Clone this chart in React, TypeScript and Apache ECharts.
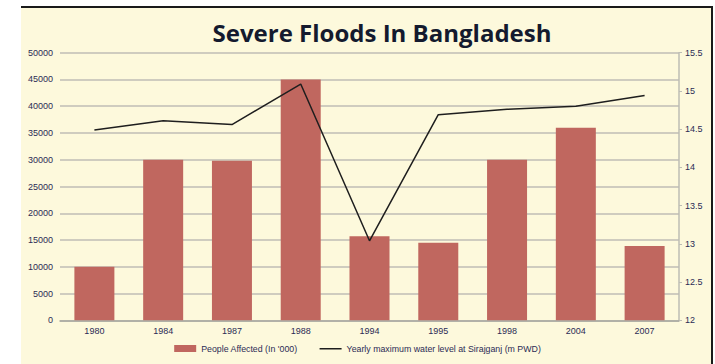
import React, { useEffect, useRef } from "react";
import * as echarts from "echarts";

const years = ["1980", "1984", "1987", "1988", "1994", "1995", "1998", "2004", "2007"];
const peopleAffected = [10000, 30000, 29800, 45000, 15700, 14500, 30000, 36000, 13900];
const waterLevel = [14.49, 14.61, 14.56, 15.09, 13.04, 14.69, 14.76, 14.8, 14.94];
const titleText = "Severe Floods In Bangladesh";
const barName = "People Affected (In '000)";
const lineName = "Yearly maximum water level at Sirajganj (m PWD)";

export default function App() {
  const ref = useRef<HTMLDivElement>(null);
  useEffect(() => {
    const chart = echarts.init(ref.current!, null, { renderer: "svg" });
    const labelColor = "#2b2b55";
    const gridColor = "#cfccbf";
    chart.setOption({
      animation: false,
      backgroundColor: "#ffffff",
      graphic: [
        { type: "rect", shape: { x: 21, y: 7, width: 691, height: 360 }, style: { fill: "#fdf9dc" }, z: -10 },
        { type: "line", shape: { x1: 21, y1: 7, x2: 713, y2: 7 }, style: { stroke: "#1a1a1a", lineWidth: 2 }, z: -5 },
        { type: "line", shape: { x1: 712, y1: 6, x2: 712, y2: 364 }, style: { stroke: "#1a1a1a", lineWidth: 2 }, z: -5 },
      ],
      title: {
        text: titleText,
        left: 377,
        textAlign: "center",
        top: 15,
        textStyle: { fontFamily: "Open Sans", fontWeight: "bold", fontSize: 24, color: "#141a2e" },
      },
      grid: { left: 60, right: 36, top: 52.7, bottom: 43.7 },
      legend: {
        bottom: 6,
        left: "center",
        itemGap: 22,
        itemWidth: 22,
        itemHeight: 7,
        textStyle: { fontFamily: "Liberation Sans", fontSize: 8.8, color: labelColor },
        data: [
          { name: barName, icon: "rect" },
          { name: lineName, icon: "path://M0,0 L0.01,0 M0,3 L22,3 L22,4.6 L0,4.6 Z M0,7 L0.01,7" },
        ],
      },
      xAxis: {
        type: "category",
        data: years,
        axisLine: { lineStyle: { color: "#a8a8a0", width: 1.5 } },
        axisTick: { show: false },
        axisLabel: { fontFamily: "Liberation Sans", fontSize: 9, color: labelColor, margin: 6 },
      },
      yAxis: [
        {
          type: "value",
          min: 0,
          max: 50000,
          interval: 5000,
          axisLine: { show: false },
          axisTick: { show: false },
          axisLabel: { fontFamily: "Liberation Sans", fontSize: 9, color: labelColor, margin: 7, formatter: (v: number) => String(v) },
          splitLine: { lineStyle: { color: gridColor, width: 2 } },
        },
        {
          type: "value",
          min: 12,
          max: 15.5,
          interval: 0.5,
          position: "right",
          axisLine: { show: true, lineStyle: { color: "#bdbdb5", width: 1.5 } },
          axisTick: { show: true, length: 3, lineStyle: { color: "#bdbdb5" } },
          axisLabel: { fontFamily: "Liberation Sans", fontSize: 9, color: labelColor, margin: 6, formatter: (v: number) => String(v) },
          splitLine: { show: false },
        },
      ],
      series: [
        {
          name: barName,
          type: "bar",
          data: peopleAffected,
          barWidth: 40,
          itemStyle: { color: "#c0675f" },
        },
        {
          name: lineName,
          type: "line",
          yAxisIndex: 1,
          data: waterLevel,
          symbol: "none",
          lineStyle: { color: "#1e1e1e", width: 1.5 },
          itemStyle: { color: "#1e1e1e" },
        },
      ],
    });
    return () => chart.dispose();
  }, []);
  return <div ref={ref} style={{ position: "fixed", left: 0, top: 0, width: 715, height: 364 }} />;
}
